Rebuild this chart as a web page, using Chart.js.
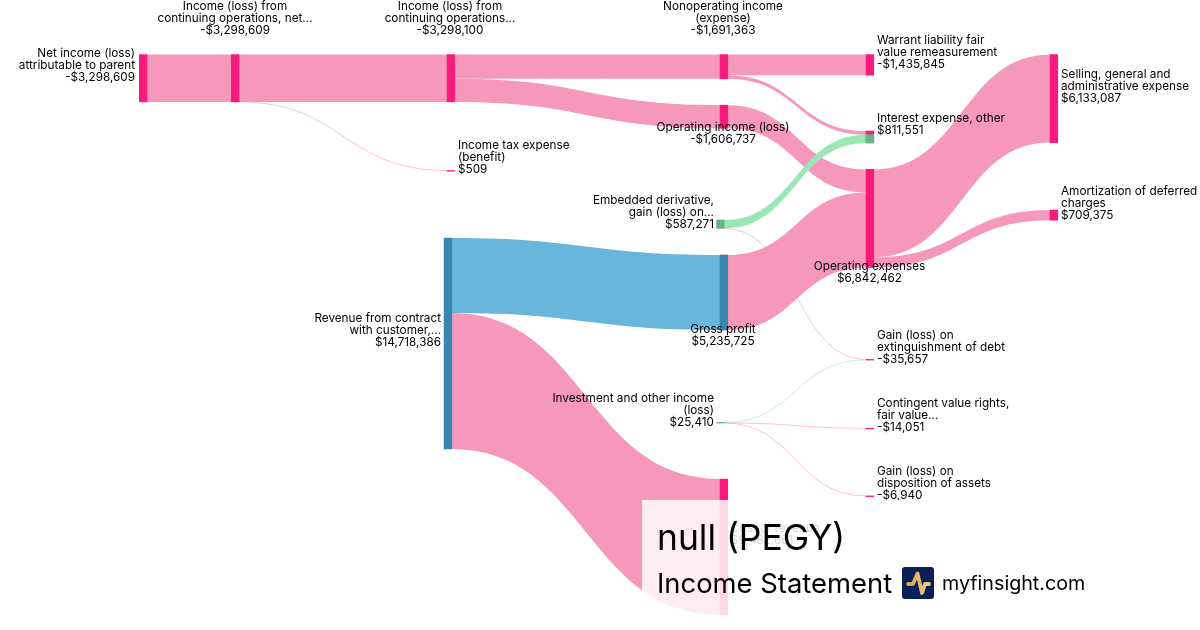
<!DOCTYPE html>
<html>
<head>
<meta charset="utf-8">
<script src="https://cdn.jsdelivr.net/npm/chart.js@4"></script>
<style>
html,body{margin:0;padding:0;background:#fff;width:1200px;height:630px;overflow:hidden;font-family:Inter,sans-serif}
#wrap{position:relative;width:1200px;height:630px}
canvas{position:absolute;left:0;top:0}
#panel{position:absolute;left:642px;top:500px;width:558px;height:130px;background:rgba(255,255,255,.83);color:#000}
#t1{position:absolute;left:15px;top:16px;font-size:35.4px;line-height:44px;white-space:nowrap}
#t2{position:absolute;left:15px;top:65px;font-size:27.4px;line-height:36px;white-space:nowrap}
#t3{position:absolute;left:300px;top:69px;font-size:19.7px;line-height:28px;white-space:nowrap}
#logo{position:absolute;left:260px;top:67px;width:32px;height:32px}
</style>
</head>
<body>
<div id="wrap">
<canvas id="c" width="1200" height="630"></canvas>
<div id="panel">
  <div id="t1">null (PEGY)</div>
  <div id="t2">Income Statement</div>
  <svg id="logo" viewBox="0 0 32 32"><defs><linearGradient id="g" x1="0" x2="1" y1="0" y2="0"><stop offset="0" stop-color="#d49f5e"/><stop offset="1" stop-color="#f2cf7c"/></linearGradient></defs><rect width="32" height="32" rx="3" fill="#0a1f56"/><path d="M6 17H11L15.5 6.5L20 26L23 17H27" fill="none" stroke="url(#g)" stroke-width="3.8" stroke-linejoin="round" stroke-linecap="round"/></svg>
  <div id="t3">myfinsight.com</div>
</div>
</div>
<script>
// ---- values ----
const nodeNames = [
  ["Net income (loss)","attributable to parent"],
  ["Income (loss) from","continuing operations, net..."],
  ["Income (loss) from","continuing operations..."],
  ["Income tax expense","(benefit)"],
  ["Nonoperating income","(expense)"],
  ["Operating income (loss)"],
  ["Warrant liability fair","value remeasurement"],
  ["Interest expense, other"],
  ["Embedded derivative,","gain (loss) on..."],
  ["Revenue from contract","with customer,..."],
  ["Gross profit"],
  ["Cost of revenue"],
  ["Operating expenses"],
  ["Selling, general and","administrative expense"],
  ["Amortization of deferred","charges"],
  ["Investment and other income","(loss)"],
  ["Gain (loss) on","extinguishment of debt"],
  ["Contingent value rights,","fair value..."],
  ["Gain (loss) on","disposition of assets"]
];
const nodeValues = [-3298609,-3298609,-3298100,509,-1691363,-1606737,-1435845,811551,587271,14718386,5235725,9482661,6842462,6133087,709375,25410,-35657,-14051,-6940];
const linkSources = [0,1,1,2,2,4,4,5,8,8,9,9,10,12,12,15,15,15];
const linkTargets = [1,2,3,4,5,6,7,12,7,16,10,11,12,13,14,16,17,18];
const linkValues  = [3298609,3298100,509,1691363,1606737,1435845,255518,1606737,587271,10247,5235725,9482661,5235725,6133087,709375,25410,14051,6940];
const linkKinds   = ["loss","loss","loss","loss","loss","loss","loss","loss","gain","loss","rev","loss","loss","loss","loss","gain","loss","loss"];
const nodeKinds   = ["loss","loss","loss","loss","loss","loss","loss","loss","gain","rev","rev","loss","loss","loss","loss","gain","loss","loss","loss"];

// ---- layout (axis units), separate from the values ----
const DOLLARS_PER_PX = 69756;
const nodeCenterX = [143.2,235.2,450.9,451,723.9,723.9,869.9,869.9,720.4,447.9,723.9,723.9,869.9,1053.9,1053.9,720.4,869.9,869.9,869.9];
const nodeTopPx   = [54.6,54.6,54.6,170.5,54.6,105.2,54.6,131,220,238,255,479,169.4,54.7,210,422.4,359.4,428.2,495.9];
// label anchor: alignment, x, y of first line centre
const labelAlign  = ["right","center","center","left","center","center","left","left","right","right","center","left","center","left","left","right","left","left","left"];
const labelX      = [135,235,450,458,723,723,877,877,714,441,723,731,869.5,1061,1061,714,877,877,877];
const labelY      = [53,6,6,145,6,127,40,118,200,318,329,528,266,74,191,398,335,403,471];
const BAR_W = 7.7;
const linkColor = {loss:"#f598bc",gain:"#9ae6b4",rev:"#69b6dc"};
const nodeColor = {loss:"#f91a7e",gain:"#68b283",rev:"#3a87ad"};

const mag = nodeValues.map(Math.abs);
const tops = nodeTopPx.map(p => p*DOLLARS_PER_PX);
const fmt = v => (v<0?"-":"")+"$"+Math.abs(v).toLocaleString("en-US");

// stack links on each node in their order
const outUsed = nodeValues.map(()=>0), inUsed = nodeValues.map(()=>0);
const bands = linkValues.map((v,i)=>{
  const s=linkSources[i], t=linkTargets[i];
  const b={s,t,v,kind:linkKinds[i],y0:tops[s]+outUsed[s],y1:tops[t]+inUsed[t]};
  outUsed[s]+=v; inUsed[t]+=v; return b;
});

const sankeyPlugin = {
  id:"sankeyLinks",
  beforeDatasetsDraw(chart){
    const {ctx,scales:{x,y}}=chart;
    const draw=b=>{
      const xa=x.getPixelForValue(nodeCenterX[b.s])+BAR_W/2;
      const xb=x.getPixelForValue(nodeCenterX[b.t])-BAR_W/2;
      const xm=(xa+xb)/2;
      const a0=y.getPixelForValue(b.y0), a1=y.getPixelForValue(b.y0+b.v);
      const c0=y.getPixelForValue(b.y1), c1=y.getPixelForValue(b.y1+b.v);
      ctx.save();
      if(a1-a0<1.2){
        ctx.beginPath();
        ctx.moveTo(xa,(a0+a1)/2);
        ctx.bezierCurveTo(xm,(a0+a1)/2,xm,(c0+c1)/2,xb,(c0+c1)/2);
        ctx.strokeStyle=linkColor[b.kind];
        ctx.lineWidth=Math.max(a1-a0,0.6);
        ctx.stroke();
      }else{
        ctx.beginPath();
        ctx.moveTo(xa,a0);
        ctx.bezierCurveTo(xm,a0,xm,c0,xb,c0);
        ctx.lineTo(xb,c1);
        ctx.bezierCurveTo(xm,c1,xm,a1,xa,a1);
        ctx.closePath();
        ctx.fillStyle=linkColor[b.kind];
        ctx.fill();
      }
      ctx.restore();
    };
    bands.filter(b=>b.kind!=="gain").forEach(draw);
    bands.filter(b=>b.kind==="gain").forEach(draw);
  },
  afterDatasetsDraw(chart){
    const {ctx,scales:{x,y}}=chart;
    ctx.save();
    ctx.font="11.75px Inter, sans-serif";
    ctx.fillStyle="#000";
    ctx.textBaseline="middle";
    nodeNames.forEach((lines,i)=>{
      ctx.textAlign=labelAlign[i];
      const px=x.getPixelForValue(labelX[i]);
      const py=y.getPixelForValue(labelY[i]*DOLLARS_PER_PX);
      [...lines,fmt(nodeValues[i])].forEach((t,k)=>ctx.fillText(t,px,py+k*12));
    });
    ctx.restore();
  }
};

// green part of the mixed "Interest expense" node, taken from its incoming link
const mixed = bands.filter(b=>b.kind==="gain" && b.t===7);

new Chart(document.getElementById("c"),{
  type:"bar",
  data:{datasets:[
    {label:"Nodes",
     data:mag.map((v,i)=>({x:nodeCenterX[i],y:[tops[i],tops[i]+v]})),
     backgroundColor:nodeKinds.map(k=>nodeColor[k]),
     barThickness:BAR_W,minBarLength:0.7,grouped:false,order:2},
    {label:"Mixed node segment",
     data:mixed.map(b=>({x:nodeCenterX[b.t],y:[b.y1,b.y1+b.v]})),
     backgroundColor:nodeColor.gain,
     barThickness:BAR_W,grouped:false,order:1}
  ]},
  options:{
    responsive:false,animation:false,
    layout:{padding:0},
    plugins:{legend:{display:false},title:{display:false},tooltip:{enabled:false}},
    scales:{
      x:{type:"linear",min:0,max:1200,offset:false,display:false},
      y:{type:"linear",min:0,max:630*DOLLARS_PER_PX,reverse:true,display:false}
    }
  },
  plugins:[sankeyPlugin]
});
</script>
</body>
</html>
